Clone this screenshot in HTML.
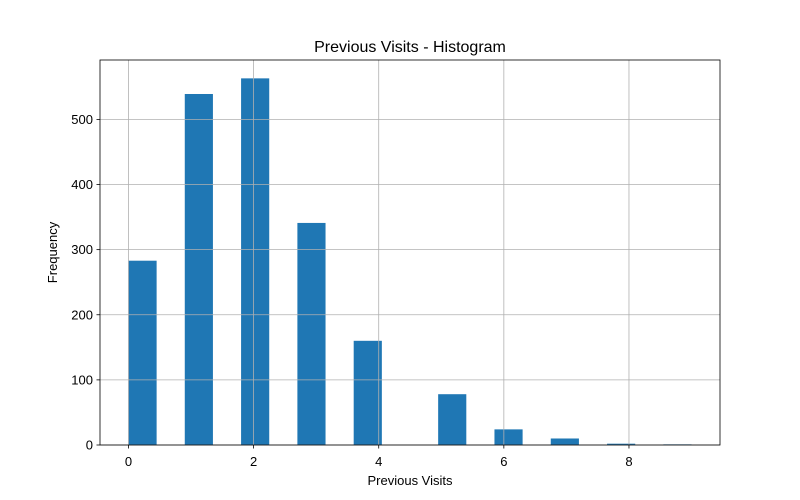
<!DOCTYPE html>
<html><head><meta charset="utf-8"><style>
body{margin:0;background:#fff;}
svg{display:block;font-family:"Liberation Sans","DejaVu Sans",sans-serif;}
</style></head><body>
<svg id="chart" width="800" height="500"></svg>
<script>
const values=[0,1,2,3,4,5,6,7,8,9];
const counts=[283,539,563,341,160,78,24,10,2,1];
const xTicks=[0,2,4,6,8];
const yTicks=[0,100,200,300,400,500];
const binWidth=0.45;
const L=100,R=720,T=60,B=445;
const xmin=-0.455,xmax=9.455,ymax=591.2;
const sx=v=>L+(v-xmin)/(xmax-xmin)*(R-L);
const sy=v=>B-v/ymax*(B-T);
const svg=document.getElementById('chart');
const NS='http://www.w3.org/2000/svg';
function mk(tag,attrs,parent){const e=document.createElementNS(NS,tag);for(const k in attrs)e.setAttribute(k,attrs[k]);(parent||svg).appendChild(e);return e;}
const bars=mk('g',{});


values.forEach((v,i)=>{
  const idx=Math.min(Math.floor(v/binWidth+1e-9),19);
  const x0=idx*binWidth;
  const r=mk('rect',{x:sx(x0),y:sy(counts[i]),width:sx(x0+binWidth)-sx(x0),height:B-sy(counts[i]),fill:'#1f77b4'},bars);
  
  
});
const grid=mk('g',{stroke:'#b0b0b0','stroke-width':0.8});


xTicks.forEach(t=>{mk('line',{x1:sx(t),x2:sx(t),y1:T,y2:B},grid);});
yTicks.forEach(t=>{mk('line',{x1:L,x2:R,y1:sy(t),y2:sy(t)},grid);});
const frame=mk('rect',{x:L,y:T,width:R-L,height:B-T,fill:'none',stroke:'#000','stroke-width':0.8});


const xa=mk('g',{});


xTicks.forEach(t=>{
  mk('line',{x1:sx(t),x2:sx(t),y1:B,y2:B+3.5,stroke:'#000','stroke-width':0.8},xa);
  const tx=mk('text',{x:sx(t),y:B+21,'text-anchor':'middle','font-size':13,fill:'#000'},xa);tx.textContent=t;
  
  
});
const ya=mk('g',{});


yTicks.forEach(t=>{
  mk('line',{x1:L-3.5,x2:L,y1:sy(t),y2:sy(t),stroke:'#000','stroke-width':0.8},ya);
  const tx=mk('text',{x:L-7,y:sy(t)+4.5,'text-anchor':'end','font-size':13,fill:'#000'},ya);tx.textContent=t;
  
  
});
const title=mk('text',{x:(L+R)/2,y:52,'text-anchor':'middle','font-size':16,fill:'#000'});
title.textContent='Previous Visits - Histogram';


const xl=mk('text',{x:(L+R)/2,y:485,'text-anchor':'middle','font-size':13,fill:'#000'});
xl.textContent='Previous Visits';


const yl=mk('text',{x:0,y:0,'text-anchor':'middle','font-size':13,fill:'#000',transform:'translate(57,'+((T+B)/2)+') rotate(-90)'});
yl.textContent='Frequency';


</script>
</body></html>
